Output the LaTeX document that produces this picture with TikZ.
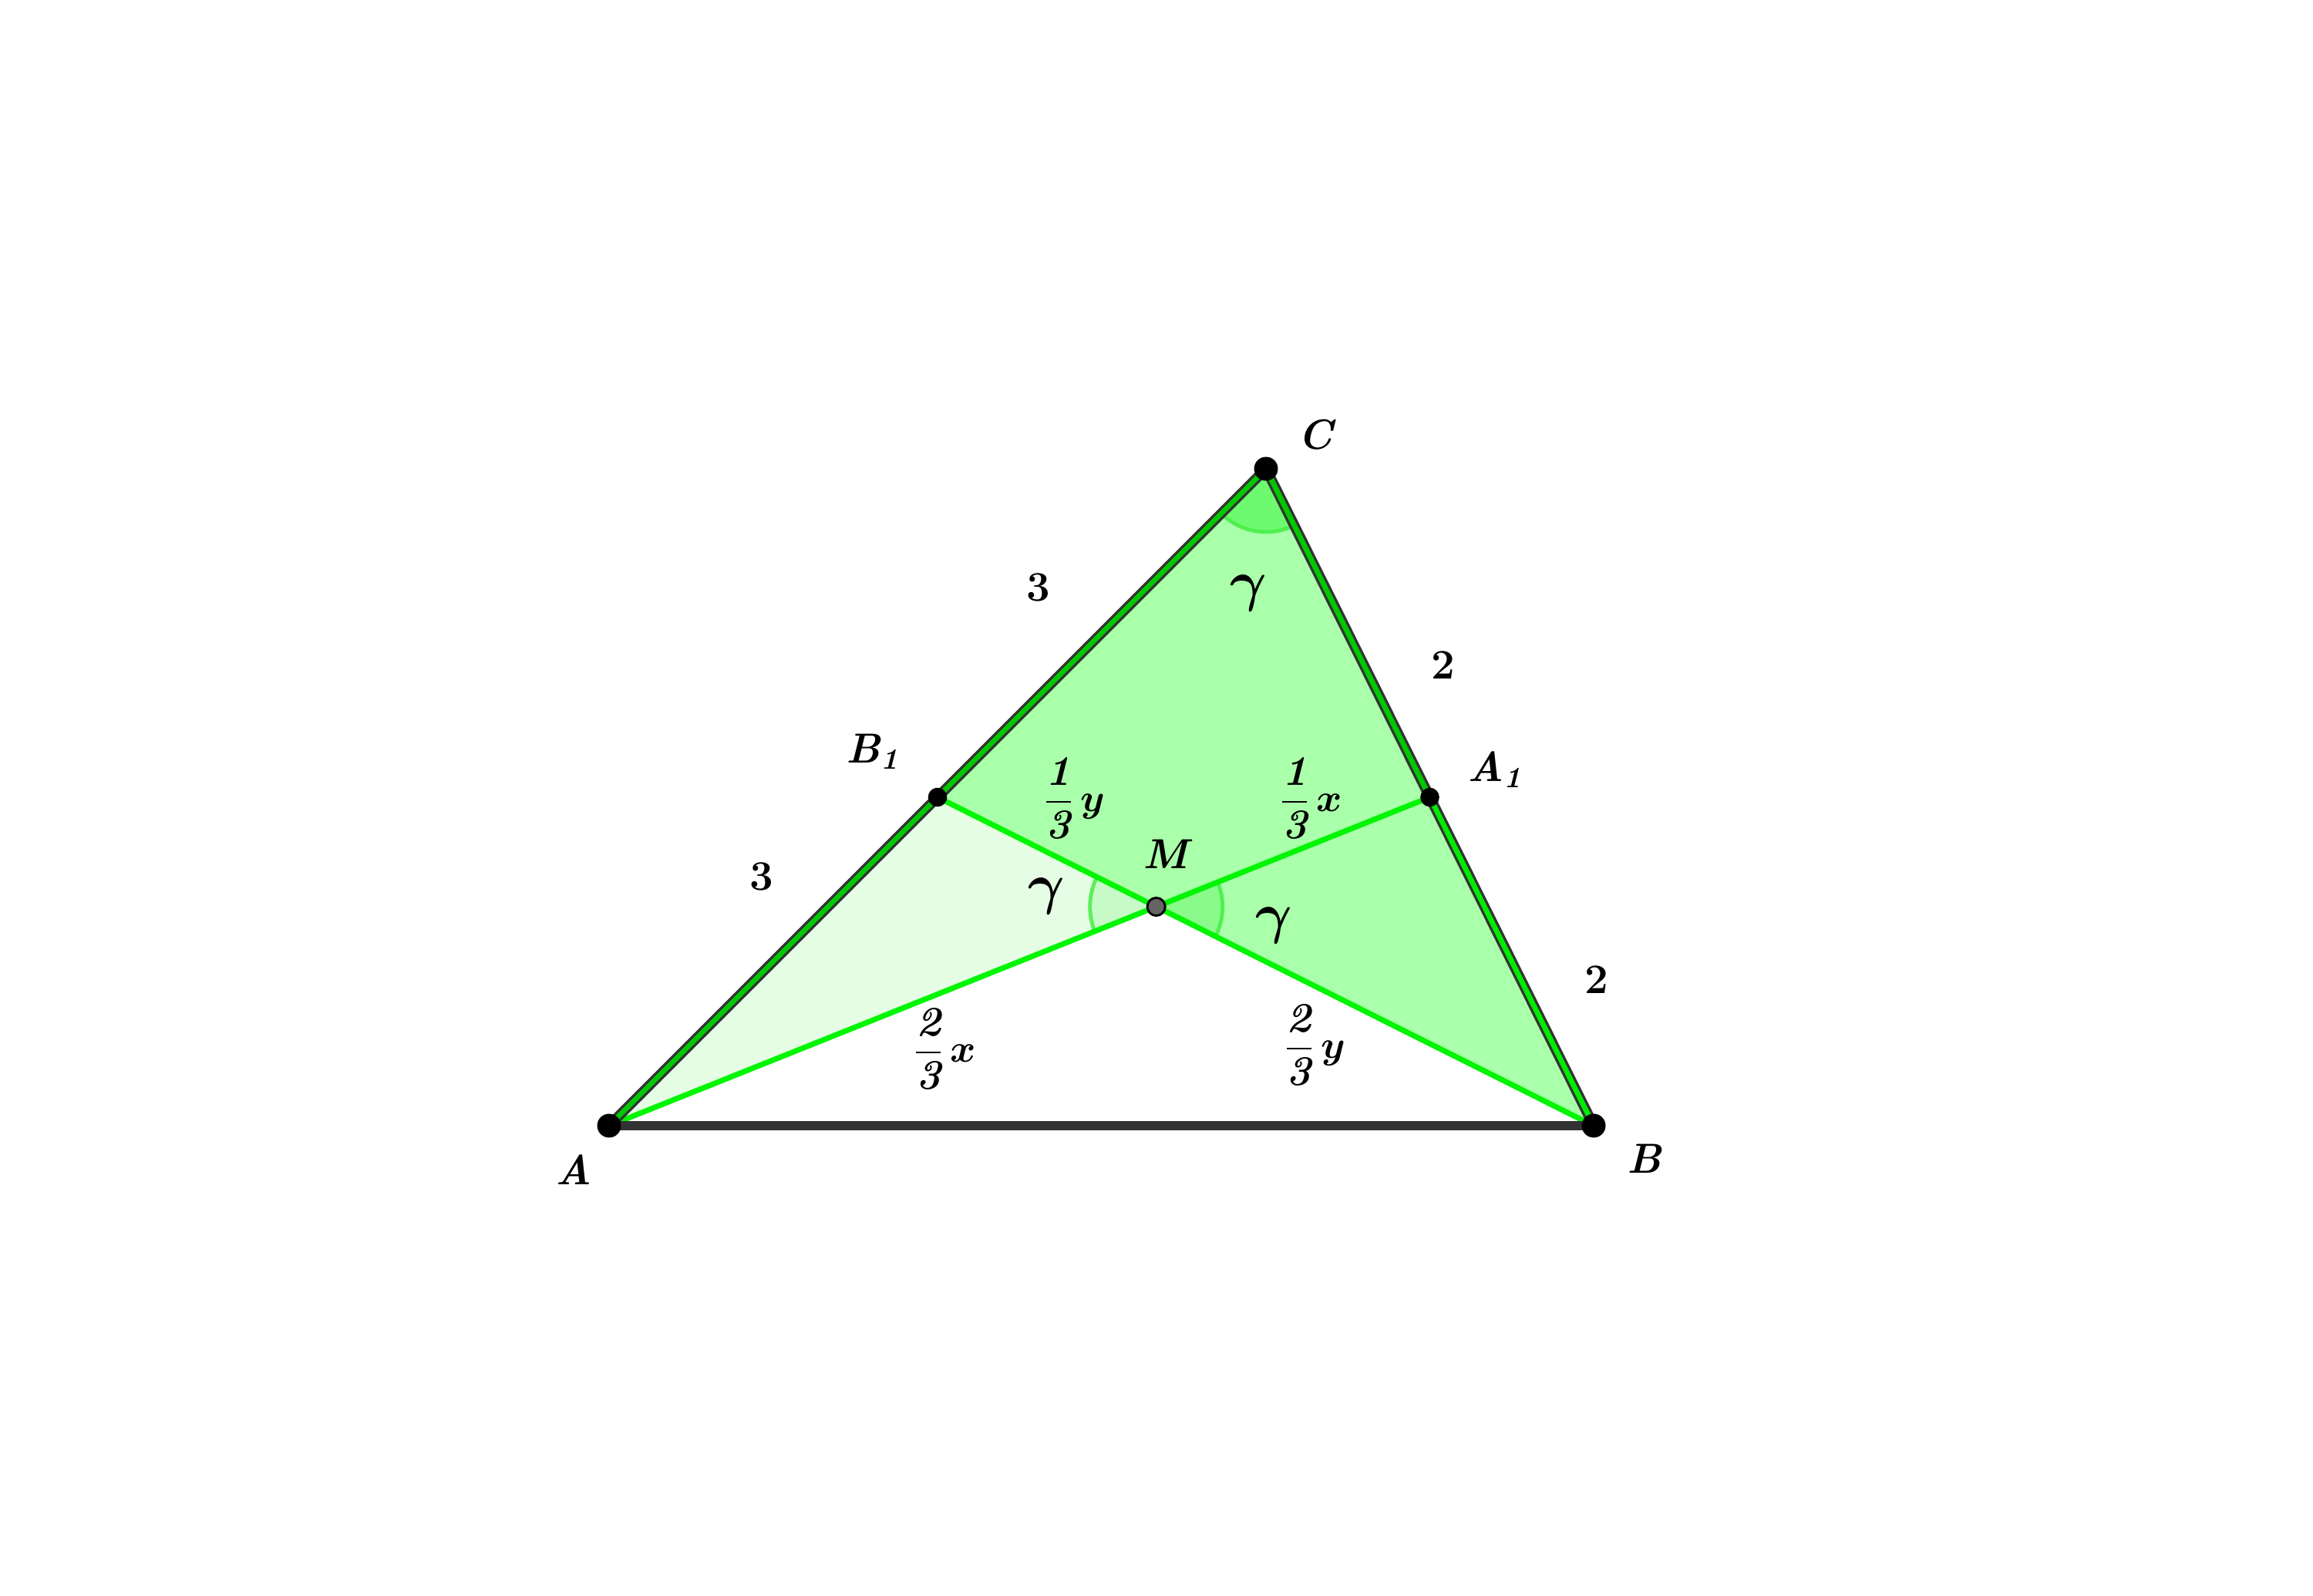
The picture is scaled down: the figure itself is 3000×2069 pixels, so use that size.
\documentclass[tikz,border=0pt]{standalone}
\usepackage{amsmath,bm}
\usetikzlibrary{calc}
\definecolor{midfill}{RGB}{170,255,170}
\definecolor{lightfill}{RGB}{229,253,229}
\definecolor{secC}{RGB}{110,250,110}
\definecolor{secR}{RGB}{138,250,138}
\definecolor{secL}{RGB}{200,250,200}
\definecolor{arcgreen}{RGB}{70,238,70}
\definecolor{med}{RGB}{0,245,0}
\definecolor{darkline}{RGB}{51,51,51}
\definecolor{sidegreen}{RGB}{0,200,0}
\definecolor{sidegreenb}{RGB}{0,235,0}
\definecolor{mgray}{RGB}{100,100,100}
\newcommand{\bi}[1]{\text{\bfseries\itshape #1}}
\begin{document}
\begin{tikzpicture}[x=0.01cm,y=0.01cm,
  lbl/.style={font=\fontsize{15.5}{18}\selectfont, inner sep=0pt},
  glbl/.style={font=\fontsize{20}{24}\selectfont, inner sep=0pt},
  median/.style={draw=med, line width=2pt},
  sideouter/.style={draw=darkline, line width=3.8pt},
  sideinner/.style={line width=1.9pt},
  arcline/.style={draw=arcgreen, line width=1.4pt, draw opacity=0.85},
  bigdot/.style={circle, fill=black, inner sep=0pt, minimum size=8.8pt},
  smalldot/.style={circle, fill=black, inner sep=0pt, minimum size=7pt},
  mdot/.style={circle, fill=mgray, draw=black, line width=0.8pt, inner sep=0pt, minimum size=6.6pt}]
\path[use as bounding box] (0,0) rectangle (3000,2069);
% geometry
\coordinate (A) at (790,609);
\coordinate (B) at (2067,609);
\coordinate (C) at (1642,1461);
\coordinate (B1) at ($(A)!0.5!(C)$);
\coordinate (A1) at ($(B)!0.5!(C)$);
\coordinate (M) at ($(A)!2/3!(A1)$);
% fills
\fill[lightfill] (A) -- (B1) -- (M) -- cycle;
\fill[midfill] (B1) -- (C) -- (B) -- (M) -- cycle;
% angle sectors
\fill[secC] (C) -- ++(225:82) arc[start angle=225, end angle=296.57, radius=82] -- cycle;
\draw[arcline] (C) ++(225:82) arc[start angle=225, end angle=296.57, radius=82];
\fill[secL] (M) -- ++(153.43:86) arc[start angle=153.43, end angle=201.8, radius=86] -- cycle;
\draw[arcline] (M) ++(153.43:86) arc[start angle=153.43, end angle=201.8, radius=86];
\fill[secR] (M) -- ++(-26.57:86) arc[start angle=-26.57, end angle=21.8, radius=86] -- cycle;
\draw[arcline] (M) ++(-26.57:86) arc[start angle=-26.57, end angle=21.8, radius=86];
% medians
\draw[median] (A) -- (A1);
\draw[median] (B) -- (B1);
% sides
\draw[sideouter] (A) -- (C) -- (B);
\draw[sideinner, draw=sidegreen] (A) -- (C) -- (A1);
\draw[sideinner, draw=sidegreenb] (A1) -- (B);
\draw[draw=darkline, line width=3.6pt] (A) -- (B);
% points
\node[bigdot] (Ad) at (A) {};
\node[bigdot] (Bd) at (B) {};
\node[bigdot] (Cd) at (C) {};
\node[smalldot] (B1d) at (B1) {};
\node[smalldot] (A1d) at (A1) {};
\node[mdot] (Md) at (M) {};
% point labels
\node[lbl] (lA) at (744,552) {\bfseries\itshape A};
\node[lbl] (lB) at (2133,566) {\bfseries\itshape B};
\node[lbl] (lC) at (1706,1505) {\bfseries\itshape C};
\node[lbl] (lB1) at (1132,1094) {\bfseries\itshape B$_{\bi{1}}$};
\node[lbl] (lA1) at (1939,1071) {\bfseries\itshape A$_{\bi{1}}$};
\node[lbl] (lM) at (1512,961) {\bfseries\itshape M};
% side lengths
\node[lbl] (s1) at (1347,1307) {\bfseries 3};
\node[lbl] (s2) at (988,932) {\bfseries 3};
\node[lbl] (s3) at (1872,1206) {\bfseries 2};
\node[lbl] (s4) at (2071,798) {\bfseries 2};
% angles
\node[glbl] (gC) at (1619,1300) {$\bm{\gamma}$};
\node[glbl] (gL) at (1357,907) {$\bm{\gamma}$};
\node[glbl] (gR) at (1652,869) {$\bm{\gamma}$};
% segment labels
\node[lbl] (f1) at (1393,1034) {$\displaystyle\frac{\bi{1}}{\bi{3}}\,\bm{y}$};
\node[lbl] (f2) at (1700,1034) {$\displaystyle\frac{\bi{1}}{\bi{3}}\,\bm{x}$};
\node[lbl] (f3) at (1225,709) {$\displaystyle\frac{\bi{2}}{\bi{3}}\,\bm{x}$};
\node[lbl] (f4) at (1705,714) {$\displaystyle\frac{\bi{2}}{\bi{3}}\,\bm{y}$};
\end{tikzpicture}
\end{document}
